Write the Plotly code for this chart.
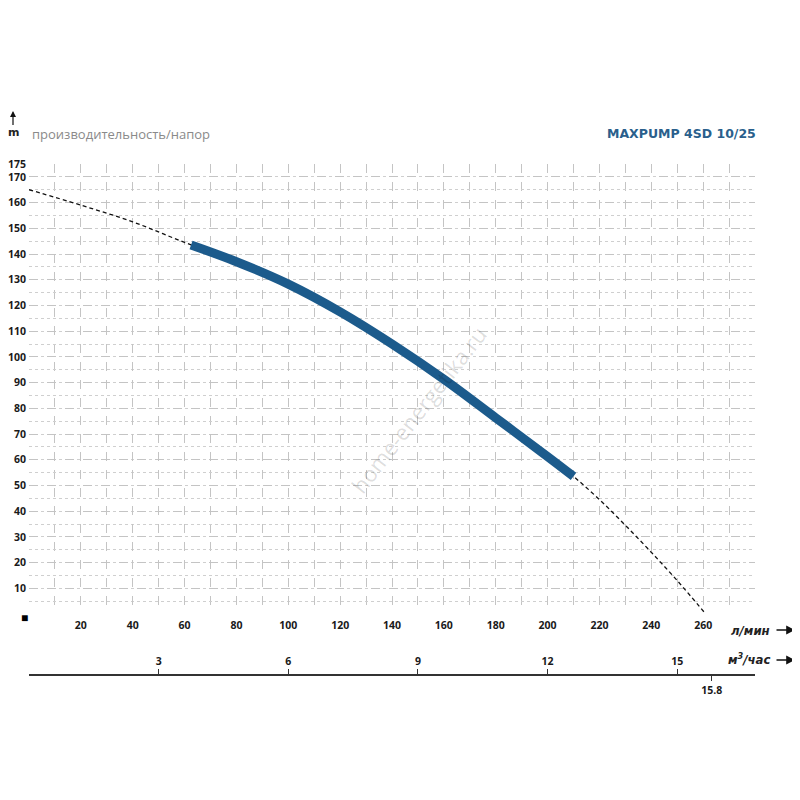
import plotly.graph_objects as go

# pump curve, flow in l/min, head in m
q_full = [0, 20, 40, 60, 80, 100, 120, 140, 160, 180, 200, 210, 220, 230, 240, 250, 261]
h_full = [165, 159, 152.5, 144.5, 137, 128.3, 117.5, 105, 91.3, 76.3, 61.2, 53.5, 44.5, 34.5, 24, 13, 0]

# working range of the pump
q_work = [62.5, 80, 100, 120, 140, 160, 180, 200, 210]
h_work = [143.5, 137, 128.3, 117.5, 105, 91.3, 76.3, 61.2, 53.5]

x_ticks = [20, 40, 60, 80, 100, 120, 140, 160, 180, 200, 220, 240, 260]
y_ticks = [10, 20, 30, 40, 50, 60, 70, 80, 90, 100, 110, 120, 130, 140, 150, 160, 170, 175]
m3_ticks = [3, 6, 9, 12, 15]
m3_max = [15.8]

# page puts the figure 8px from the window corner
OFF = 8
W, H = 800, 800
ML, MR, MT, MB = 29 - OFF, 800 - 755 + OFF, 164 - OFF, 800 - 675 + OFF
pw = W - ML - MR
ph = H - MT - MB


def px(x):
    return (x - OFF - ML) / pw


def py(y):
    return (H - MB - (y - OFF)) / ph


tick_font = dict(family='Open Sans', size=10.5, color='#1a1a1a', weight='bold')
grid_col = '#c4c4c4'

fig = go.Figure()
fig.add_trace(go.Scatter(x=q_full, y=h_full, mode='lines', line=dict(color='#111', width=1.3, dash='4px,3px', shape='spline'),
                         showlegend=False, hoverinfo='skip'))
fig.add_trace(go.Scatter(x=q_work, y=h_work, mode='lines', line=dict(color='#1c5b8c', width=9, shape='spline'),
                         showlegend=False))

fig.update_layout(
    width=W, height=H, margin=dict(l=ML, r=MR, t=MT, b=MB),
    paper_bgcolor='white', plot_bgcolor='white',
    xaxis=dict(range=[0, 280], tickvals=x_ticks, tickfont=tick_font, showline=False, zeroline=False,
               showgrid=True, gridcolor=grid_col, griddash='dash', gridwidth=1,
               minor=dict(tickvals=list(range(0, 281, 10)), showgrid=True, gridcolor=grid_col, griddash='dash'),
               ticks='', ticklabelstandoff=3, anchor='y', automargin=False),
    yaxis=dict(range=[0, 175], tickvals=y_ticks, tickfont=tick_font, showline=False, zeroline=False,
               domain=[py(614), 1],
               showgrid=True, gridcolor=grid_col, griddash='dash', gridwidth=1,
               minor=dict(dtick=5, showgrid=True, gridcolor='#cfcfcf', griddash='dot'),
               ticks='', ticklabelstandoff=2, automargin=False),
    xaxis2=dict(range=[0, 280 / 16.6667], overlaying='x', anchor='free', position=0, side='top',
                tickvals=m3_ticks, tickfont=tick_font, showline=True, linecolor='#333', linewidth=1.5,
                ticks='outside', ticklen=5, tickcolor='#333', showgrid=False, zeroline=False, automargin=False),
    xaxis3=dict(range=[0, 280 / 16.6667], overlaying='x', anchor='free', position=0, side='bottom',
                tickvals=m3_max, ticktext=['15.8'], tickfont=tick_font, showline=False,
                ticks='outside', ticklen=5, tickcolor='#333', showgrid=False, zeroline=False, automargin=False),
)

# empty traces so the extra axes are drawn
fig.add_trace(go.Scatter(x=[], y=[], xaxis='x2', yaxis='y', showlegend=False))
fig.add_trace(go.Scatter(x=[], y=[], xaxis='x3', yaxis='y', showlegend=False))

unit_font = dict(family='DejaVu Sans Condensed', size=13, color='#222', weight='bold', style='italic')
arrow = dict(text=' ', font=dict(size=1), showarrow=True, arrowhead=2, arrowcolor='#111', standoff=0, startstandoff=0)


def label(x, y, text, font, xanchor='center'):
    fig.add_annotation(xref='paper', yref='paper', x=px(x), y=py(y), text=text, showarrow=False,
                       xanchor=xanchor, yanchor='middle', font=font)


label(13, 133, 'm', dict(family='DejaVu Sans', size=11, color='#222', weight='bold'))
fig.add_annotation(xref='paper', yref='paper', x=px(13), y=py(111), ax=0, ay=16, arrowsize=1, arrowwidth=1.2, **arrow)
label(30, 134, 'производительность/напор', dict(family='Open Sans', size=13, color='#8a8a8a'), 'left')
label(758, 134, 'MAXPUMP 4SD 10/25', dict(family='DejaVu Sans', size=12.5, color='#2a5f8c', weight='bold'), 'right')

label(772, 630, 'л/мин', unit_font, 'right')
label(772, 659, 'м<sup>3</sup>/час', unit_font, 'right')
for yy in [630, 660]:
    fig.add_annotation(xref='paper', yref='paper', x=px(795), y=py(yy), ax=-20, ay=0,
                       arrowsize=1.1, arrowwidth=1.6, **arrow)

fig.add_annotation(xref='paper', yref='y', x=px(24), y=0, yshift=-3, text='■', showarrow=False,
                   xanchor='center', yanchor='middle', font=dict(size=12, color='#000'))

fig.add_annotation(xref='paper', yref='paper', x=px(418), y=py(410), text='home-energetika.ru', textangle=-52,
                   showarrow=False, xanchor='center', yanchor='middle',
                   font=dict(family='Open Sans', size=22, color='rgba(0,0,0,0.14)'))

fig.write_html('out.html')
